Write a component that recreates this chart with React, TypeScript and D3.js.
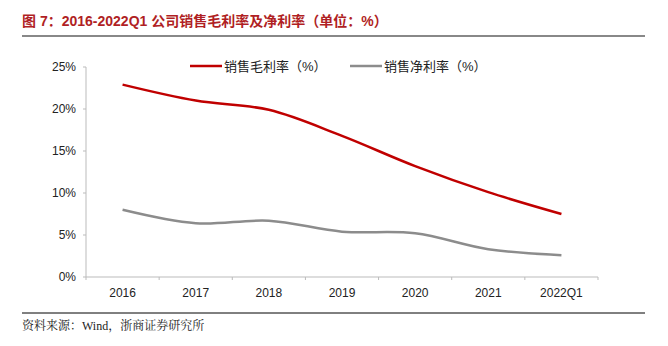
import React from "react";
import * as d3 from "d3";

const categories = ["2016", "2017", "2018", "2019", "2020", "2021", "2022Q1"];
const grossMargin = [22.9, 21.0, 19.9, 16.8, 13.2, 10.1, 7.5];
const netMargin = [8.0, 6.4, 6.7, 5.4, 5.2, 3.3, 2.6];
const yTicks = [0, 5, 10, 15, 20, 25];
const seriesNames = ["销售毛利率（%）", "销售净利率（%）"];
const title = "图 7：2016-2022Q1 公司销售毛利率及净利率（单位：%）";
const source = "资料来源：Wind，浙商证券研究所";

export default function App() {
  const W = 668, H = 346;
  const x0 = 86, x1 = 598, yTop = 67, yBot = 277;
  const x = d3.scaleBand<string>().domain(categories).range([x0, x1]);
  const y = d3.scaleLinear().domain([0, 25]).range([yBot, yTop]);
  const line = d3
    .line<number>()
    .x((_, i) => (x(categories[i]) as number) + x.bandwidth() / 2)
    .y((d) => y(d))
    .curve(d3.curveCatmullRom.alpha(0.5));
  const font = "'Liberation Sans', Arial, 'Noto Sans CJK SC', sans-serif";
  const tickBounds = [...categories.map((c) => x(c) as number), x1];
  return (
    <svg width={W} height={H} style={{ position: "absolute", left: 0, top: 0 }}>
      <rect width={W} height={H} fill="#fff" />
      <text x={22} y={26} fill="#B01F24" fontSize={14} fontWeight="bold" fontFamily="'Liberation Sans', 'Noto Sans CJK SC', sans-serif">
        {title}
      </text>
      <line x1={22} x2={645} y1={36} y2={36} stroke="#888" strokeWidth={2} />
      {/* axes */}
      <line x1={x0} x2={x0} y1={yTop} y2={yBot} stroke="#bbb" strokeWidth={1} />
      <line x1={x0} x2={x1} y1={yBot} y2={yBot} stroke="#bbb" strokeWidth={1} />
      {yTicks.map((t) => (
        <g key={t}>
          <line x1={x0 - 3} x2={x0} y1={y(t)} y2={y(t)} stroke="#bbb" />
          <text x={x0 - 10} y={y(t) + 4} textAnchor="end" fontSize={12} fontFamily={font} fill="#222">
            {t}%
          </text>
        </g>
      ))}
      {tickBounds.map((b, i) => (
        <line key={i} x1={b} x2={b} y1={yBot} y2={yBot + 3} stroke="#bbb" />
      ))}
      {categories.map((c) => (
        <text key={c} x={(x(c) as number) + x.bandwidth() / 2} y={297} textAnchor="middle" fontSize={12} fontFamily={font} fill="#222">
          {c}
        </text>
      ))}
      <path d={line(grossMargin) || ""} fill="none" stroke="#C00000" strokeWidth={2.5} />
      <path d={line(netMargin) || ""} fill="none" stroke="#8C8C8C" strokeWidth={2.5} />
      {/* legend */}
      <line x1={190} x2={222} y1={66} y2={66} stroke="#C00000" strokeWidth={2.5} />
      <text x={224} y={71} fontSize={13} fontFamily={font} fill="#222">{seriesNames[0]}</text>
      <line x1={350} x2={382} y1={66} y2={66} stroke="#8C8C8C" strokeWidth={2.5} />
      <text x={384} y={71} fontSize={13} fontFamily={font} fill="#222">{seriesNames[1]}</text>
      <line x1={22} x2={645} y1={313} y2={313} stroke="#000" strokeWidth={1} />
      <text x={22} y={330} fontSize={12} fontFamily="'Liberation Serif', 'Noto Serif CJK SC', 'Noto Sans CJK SC', serif" fill="#222">
        {source}
      </text>
    </svg>
  );
}
